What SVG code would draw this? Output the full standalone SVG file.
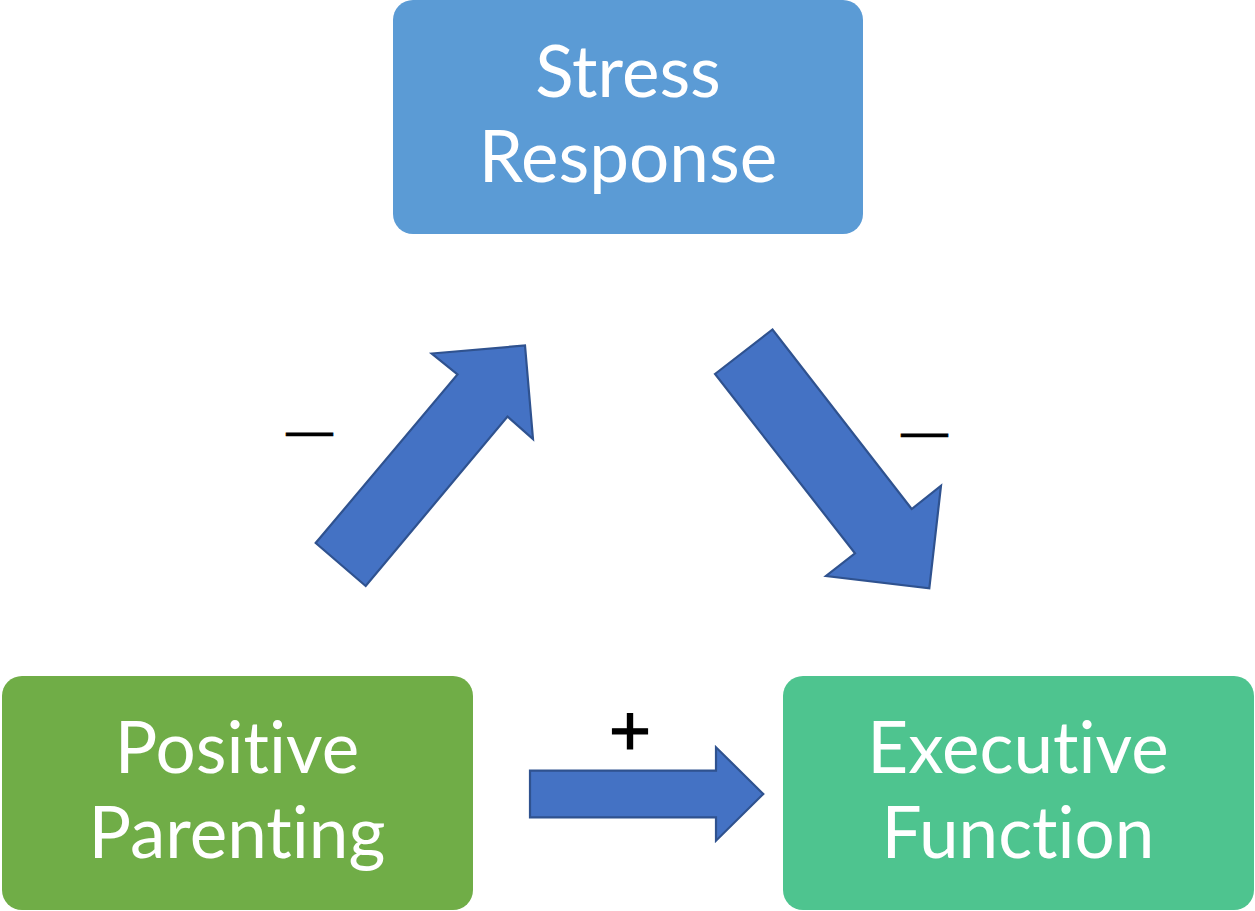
<svg xmlns="http://www.w3.org/2000/svg" width="1255" height="911" viewBox="0 0 1255 911">
  <style>
    .box-label { font-family: Lato, "Open Sans", sans-serif; font-size: 71px; fill: #ffffff; text-anchor: middle; font-variant-ligatures: none; font-feature-settings: "liga" 0; }
    .arrow { fill: #4472C4; stroke: #2F528F; stroke-width: 2.2; stroke-linejoin: miter; }
    .sign { font-family: "Liberation Sans", Arial, sans-serif; fill: #000000; stroke: #000000; text-anchor: middle; }
  </style>
  <rect width="1255" height="911" fill="#ffffff"/>

  <g id="stress-response">
    <rect x="393" y="0" width="470" height="234" rx="20" fill="#5B9BD5"/>
    <text class="box-label" x="628" y="97">Stress</text>
    <text class="box-label" x="628" y="182">Response</text>
  </g>

  <g id="positive-parenting">
    <rect x="2" y="676" width="471" height="234" rx="20" fill="#70AD47"/>
    <text class="box-label" x="237" y="773">Positive</text>
    <text class="box-label" x="237" y="858">Parenting</text>
  </g>

  <g id="executive-function">
    <rect x="783" y="676" width="471" height="234" rx="20" fill="#4EC48F"/>
    <text class="box-label" x="1018" y="773">Executive</text>
    <text class="box-label" x="1018" y="858">Function</text>
  </g>

  <g id="connectors">
    <!-- Positive Parenting to Stress Response -->
    <polygon class="arrow" points="315.7,543 365.7,586 507.5,416.5 533,439 525,345.5 431.7,353.5 457.5,374.5"/>
    <!-- Stress Response to Executive Function -->
    <polygon class="arrow" points="715,374 772.5,329.5 911.7,509 941,485.7 929.3,588.3 826,576 855,553.3"/>
    <!-- Positive Parenting to Executive Function -->
    <polygon class="arrow" points="530,770.7 716,770.7 716,747.3 763.3,794 716,840.7 716,817.3 530,817.3"/>
    <text class="sign" x="309.5" y="446" font-size="47" stroke-width="0.6">—</text>
    <text class="sign" x="924.5" y="447" font-size="47" stroke-width="0.6">—</text>
    <text class="sign" x="630" y="755" font-size="72" stroke-width="1.2">+</text>
  </g>
</svg>
